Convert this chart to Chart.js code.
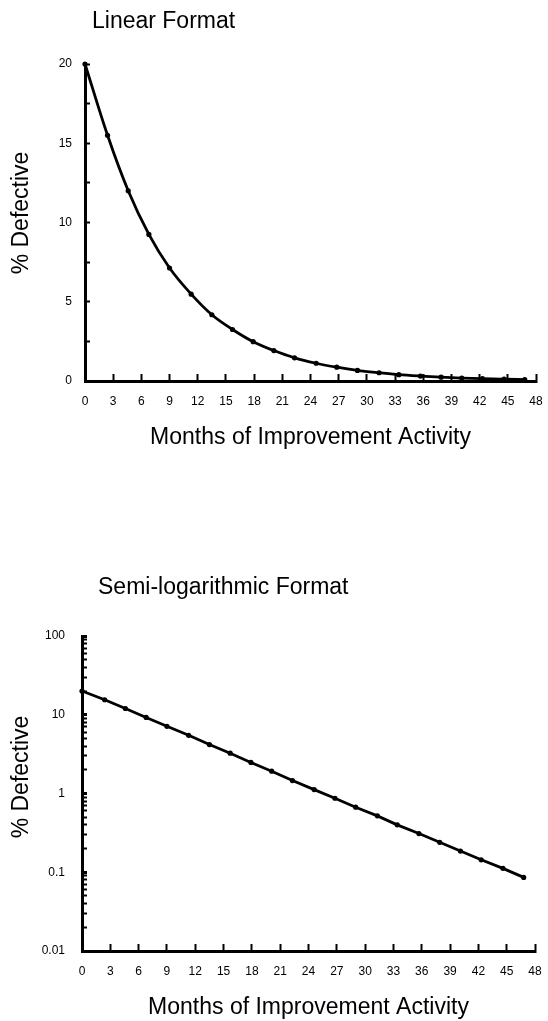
<!DOCTYPE html>
<html>
<head>
<meta charset="utf-8">
<script src="https://cdn.jsdelivr.net/npm/chart.js@4.4.0/dist/chart.umd.min.js"></script>
<style>
  html, body { margin: 0; padding: 0; background: #fff; }
  .box { position: absolute; left: 0; width: 548px; }
  #top { top: 0; height: 510px; }
  #bottom { top: 510px; height: 511px; }
</style>
</head>
<body>
<div class="box" id="top"><canvas id="linearChart"></canvas></div>
<div class="box" id="bottom"><canvas id="logChart"></canvas></div>
<script>
// Months since start of the improvement activity
const months = [0, 2.4, 4.6, 6.8, 9.0, 11.3, 13.5, 15.7, 17.9, 20.1, 22.3,
  24.6, 26.8, 29.0, 31.3, 33.4, 35.7, 37.9, 40.1, 42.3, 44.6, 46.8];
// % defective
const percentDefective = [20, 15.5, 12.0, 9.25, 7.13, 5.48, 4.18, 3.25, 2.48, 1.92, 1.46,
  1.12, 0.87, 0.67, 0.52, 0.40, 0.31, 0.24, 0.186, 0.144, 0.112, 0.086];
const linearYLabels = [0, 5, 10, 15, 20];
const logYLabels = ['0.01', '0.1', '1', '10', '100'];

const FONT = '"Liberation Sans", Arial, Helvetica, sans-serif';
const points = months.map((m, i) => ({ x: m, y: percentDefective[i] }));

// draws the panel heading and the rotated y-axis title
const panelText = {
  id: 'panelText',
  afterDraw(chart, args, opts) {
    const ctx = chart.ctx;
    ctx.save();
    ctx.fillStyle = '#000';
    ctx.font = '23px ' + FONT;
    ctx.textBaseline = 'middle';
    ctx.textAlign = 'left';
    ctx.fillText(opts.title, opts.titleX, opts.titleY);
    ctx.translate(opts.yTitleX, opts.yTitleY);
    ctx.rotate(-Math.PI / 2);
    ctx.textAlign = 'center';
    ctx.fillText(opts.yTitle, 0, 0);
    ctx.restore();
  }
};

function xScale(labelPad, titlePad, height) {
  return {
    type: 'linear', min: 0, max: 48,
    border: { display: true, color: '#000', width: 3 },
    grid: { drawOnChartArea: false, tickLength: -7, tickColor: '#000', tickWidth: 2 },
    ticks: { stepSize: 3, autoSkip: false, maxRotation: 0, padding: labelPad,
      color: '#000', font: { family: FONT, size: 12 } },
    title: { display: true, text: 'Months of Improvement Activity', color: '#000',
      font: { family: FONT, size: 23 }, padding: { top: 0, bottom: titlePad } },
    afterFit: (s) => {
      s.height = height;
      // keep the label padding from eating into the plot width
      s.paddingLeft = 0;
      s.paddingRight = 0;
    }
  };
}

function dataset(tension) {
  return {
    data: points,
    borderColor: '#000',
    backgroundColor: '#000',
    borderWidth: 2.8,
    pointRadius: 2.6,
    pointBackgroundColor: '#000',
    pointBorderWidth: 0,
    tension: tension,
    cubicInterpolationMode: tension ? 'monotone' : 'default',
    clip: false
  };
}

new Chart(document.getElementById('linearChart'), {
  type: 'line',
  data: { datasets: [dataset(0.4)] },
  options: {
    responsive: true, maintainAspectRatio: false, animation: false,
    layout: { padding: { top: 64, right: 12, left: 0, bottom: 0 } },
    plugins: {
      legend: { display: false }, tooltip: { enabled: false },
      panelText: { title: 'Linear Format', titleX: 92, titleY: 22,
        yTitle: '% Defective', yTitleX: 22, yTitleY: 213 }
    },
    scales: {
      x: xScale(20, 59, 129),
      y: {
        type: 'linear', min: 0, max: 20,
        border: { display: true, color: '#000', width: 3 },
        grid: { drawOnChartArea: false, tickLength: -5, tickColor: '#000', tickWidth: 2 },
        ticks: { stepSize: 2.5, autoSkip: false, padding: 18, color: '#000',
          font: { family: FONT, size: 12 },
          callback: (v) => linearYLabels.includes(v) ? String(v) : '' },
        afterFit: (s) => { s.width = 85; }
      }
    }
  },
  plugins: [panelText]
});

new Chart(document.getElementById('logChart'), {
  type: 'line',
  data: { datasets: [dataset(0)] },
  options: {
    responsive: true, maintainAspectRatio: false, animation: false,
    layout: { padding: { top: 126, right: 13, left: 0, bottom: 0 } },
    plugins: {
      legend: { display: false }, tooltip: { enabled: false },
      panelText: { title: 'Semi-logarithmic Format', titleX: 98, titleY: 78,
        yTitle: '% Defective', yTitleX: 22, yTitleY: 267 }
    },
    scales: {
      x: xScale(20, 0, 70),
      y: {
        type: 'logarithmic', min: 0.01, max: 100,
        border: { display: true, color: '#000', width: 3 },
        grid: { drawOnChartArea: false, tickLength: -5, tickColor: '#000',
          tickWidth: (c) => logYLabels.includes(String(c.tick.value)) ? 3 : 2 },
        ticks: { autoSkip: false, padding: 22, color: '#000',
          font: { family: FONT, size: 12 },
          callback: (v) => logYLabels.includes(String(v)) ? String(v) : '' },
        afterBuildTicks: (scale) => {
          const t = [];
          for (let e = -2; e < 2; e++) {
            for (let k = 1; k < 10; k++) t.push({ value: +(k * Math.pow(10, e)).toPrecision(3) });
          }
          t.push({ value: 100 });
          scale.ticks = t;
        },
        afterFit: (s) => { s.width = 82; }
      }
    }
  },
  plugins: [panelText]
});
</script>
</body>
</html>
